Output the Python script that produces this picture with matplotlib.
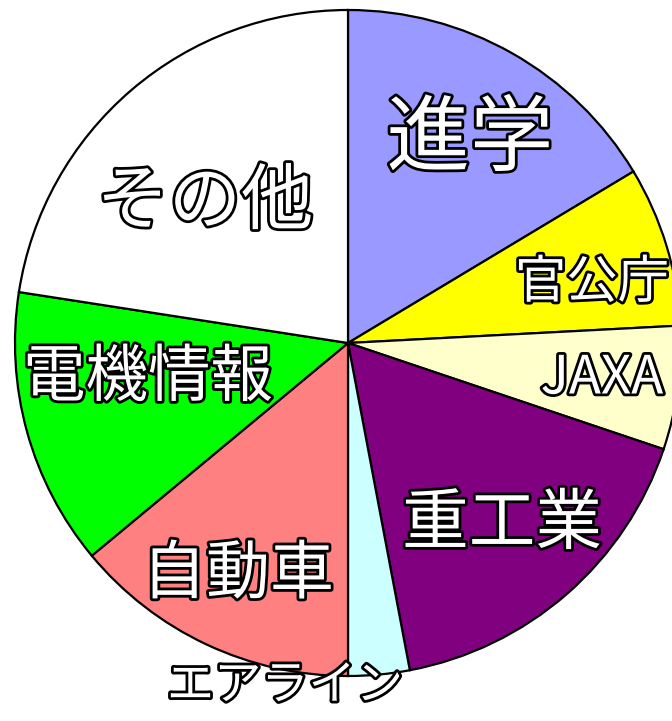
import matplotlib.pyplot as plt
import matplotlib.patheffects as pe

plt.rcParams['font.family'] = ['Noto Sans CJK JP', 'DejaVu Sans']

labels = ['進学', '官公庁', 'JAXA', '重工業', 'エアライン', '自動車', '電機情報', 'その他']
values = [59, 28, 21.6, 60.7, 10.7, 50.3, 48.5, 81.2]
colors = ['#9999FF', '#FFFF00', '#FFFFCC', '#800080', '#CCFFFF', '#FF8080', '#00FF00', '#FFFFFF']

# label centres in pixel coords (y from top) and font sizes
label_pos = [(470, 140), (592, 283), (602, 378), (502, 525),
             (285, 686), (238, 575), (148, 378), (205, 203)]
label_size = [60, 37, 38, 48, 34, 46, 45, 52]

W, H = 672, 721
fig = plt.figure(figsize=(W / 100, H / 100), dpi=100)
ax = fig.add_axes([0, 0, 1, 1])

cx, cy, r = 348, 343, 333
ax.pie(values, colors=colors, startangle=90, counterclock=False,
       center=(cx, H - cy), radius=r,
       wedgeprops=dict(edgecolor='black', linewidth=1.6))
ax.set_xlim(0, W)
ax.set_ylim(0, H)
ax.set_aspect('equal')
ax.axis('off')

stroke = [pe.Stroke(linewidth=4, foreground='black'), pe.Normal()]
for lab, (x, y), fs in zip(labels, label_pos, label_size):
    ax.text(x, H - y, lab, fontsize=fs, color='white', ha='center', va='center',
            path_effects=stroke)

fig.savefig('out.png', dpi=100)
